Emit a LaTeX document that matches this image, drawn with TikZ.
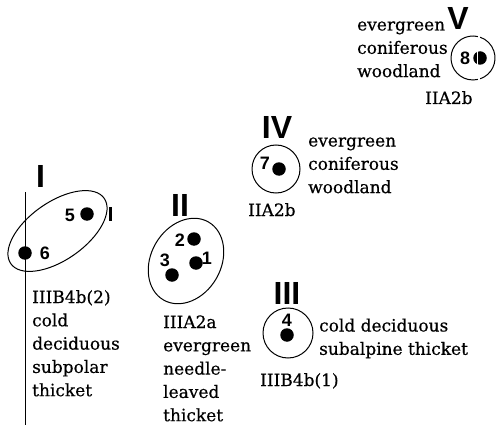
\documentclass[tikz,border=0pt]{standalone}
\usepackage{fontspec}
\setmainfont{DejaVu Serif}
\newfontfamily\txtfont{DejaVu Serif}[FakeBold=0.5]
\newfontfamily\numfont{Liberation Sans}
\usetikzlibrary{shapes.geometric}
\begin{document}
\begin{tikzpicture}[x=1pt,y=-1pt,
  txt/.style={font=\txtfont\fontsize{17}{23.3}\selectfont, inner sep=0pt, anchor=base west, align=left},
  num/.style={font=\numfont\bfseries\fontsize{18}{18}\selectfont, inner sep=0pt},
  roman/.style={font=\numfont\bfseries\fontsize{32}{32}\selectfont, inner sep=0pt},
  dot/.style={circle, fill=black, inner sep=0pt, minimum size=13.5pt},
  ring/.style={draw, line width=1pt, ellipse, inner sep=0pt},
  circ/.style={draw, line width=1pt, circle, inner sep=0pt}]
\useasboundingbox (0,0) rectangle (503,425);
% group I
\coordinate (lt) at (25,192);
\coordinate (lb) at (25,425);
\draw[line width=0.9pt] (lt) -- (lb);
\node[roman] (rI) at (40.5,176.5) {I};
\node[ring, minimum width=114pt, minimum height=58pt, rotate=35] (e1) at (57.5,231) {};
\coordinate (tk1) at (110,207);
\coordinate (tk2) at (110,221);
\draw[line width=3pt] (tk1) -- (tk2);
\node[dot] (d5) at (87,214) {};
\node[num] (n5) at (70,215) {5};
\node[dot] (d6) at (25,253) {};
\node[num] (n6) at (45,253) {6};
% anchor base = baseline of the last line
\node[txt] (t1) at (32,396.2) {IIIB4b(2)\\cold\\deciduous\\subpolar\\thicket};
% group II
\node[roman] (rII) at (180,205) {II};
\node[ring, minimum width=90pt, minimum height=70pt, rotate=60] (e2) at (186,261) {};
\node[dot] (d2) at (194,239) {};
\node[num] (n2) at (180,240) {2};
\node[dot] (d1) at (196,263) {};
\node[num] (n1) at (207,258) {1};
\node[dot] (d3) at (172,275) {};
\node[num] (n3) at (165,260) {3};
\node[txt] (t2) at (163,421.2) {IIIA2a\\evergreen\\needle-\\leaved\\thicket};
% group III
\node[roman] (rIII) at (287,293) {III};
\node[circ, minimum size=50pt] (c3) at (288,333) {};
\node[num] (n4) at (287,320) {4};
\node[dot] (d4) at (287,335) {};
\node[txt] (t3a) at (319,354.8) {cold deciduous\\subalpine thicket};
\node[txt] (t3b) at (260,386) {IIIB4b(1)};
% group IV
\node[roman] (rIV) at (277,127) {IV};
\node[circ, minimum size=48pt] (c4) at (276,169) {};
\node[num] (n7) at (265,163) {7};
\node[dot] (d7) at (279,169) {};
\node[txt] (t4a) at (308,193.1) {evergreen\\coniferous\\woodland};
\node[txt] (t4b) at (248,216) {IIA2b};
% group V
\node[roman] (rV) at (458,18) {V};
\coordinate (c5) at (473,58);
\draw[line width=1pt] (c5) ++(77:22pt) arc[start angle=77, end angle=283, radius=22pt];
\draw[line width=1pt] (c5) ++(-71:22pt) arc[start angle=-71, end angle=71, radius=22pt];
\node[num] (n8) at (465,58) {8};
\node[dot] (d8) at (480,58) {};
\draw[white, line width=1pt] ([xshift=-2.5pt,yshift=7pt]d8.center) -- ([xshift=-2.5pt,yshift=-7pt]d8.center);
\node[txt] (t5a) at (357,77.1) {evergreen\\coniferous\\woodland};
\node[txt] (t5b) at (425,104) {IIA2b};
\end{tikzpicture}
\end{document}
